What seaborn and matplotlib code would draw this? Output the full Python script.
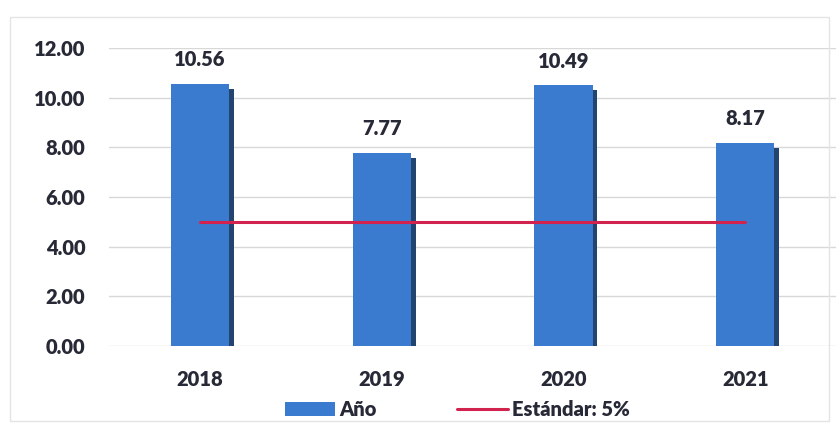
import matplotlib
matplotlib.use("Agg")
import matplotlib.pyplot as plt
import matplotlib.patheffects as pe
from matplotlib.patches import Patch, Rectangle
from matplotlib.lines import Line2D
import seaborn as sns

# data
years = ['2018', '2019', '2020', '2021']
values = [10.56, 7.77, 10.49, 8.17]
standard = [5, 5, 5, 5]

bar_color = '#3b7bcf'
shadow_color = '#22446e'
line_color = '#d2234f'
text_color = '#272936'

sns.set_theme(style='white')
plt.rcParams['font.family'] = ['Lato', 'DejaVu Sans']
plt.rcParams['font.weight'] = 'heavy'

fig = plt.figure(figsize=(8.39, 4.24), dpi=100)
ax = fig.add_axes([0.130, 0.184, 0.8665, 0.703])

sns.barplot(x=years, y=values, color=bar_color, width=0.32, saturation=1,
            linewidth=0, ax=ax, zorder=2)
for bar in ax.patches:
    bar.set_path_effects([pe.SimplePatchShadow(offset=(3.5, -3.5), shadow_rgbFace=shadow_color, alpha=1),
                          pe.Normal()])

sns.lineplot(x=list(range(len(years))), y=standard, color=line_color, linewidth=2.2,
             ax=ax, zorder=3)

# value labels
for i, v in enumerate(values):
    ax.text(i, v + 0.6, f'{v:.2f}', ha='center', va='bottom', fontsize=14.5,
            fontweight='heavy', color=text_color)

ax.set_xlim(-0.5, 3.5)
ax.set_ylim(0, 12)
ax.set_yticks([0, 2, 4, 6, 8, 10, 12])
ax.set_yticklabels([f'{t:.2f}' for t in [0, 2, 4, 6, 8, 10, 12]])
ax.yaxis.grid(True, color='#d8d8d8', linewidth=1)
ax.set_axisbelow(True)
for s in ax.spines.values():
    s.set_visible(False)
ax.tick_params(axis='both', length=0, labelsize=14.5, colors=text_color)
ax.tick_params(axis='y', pad=17)
ax.tick_params(axis='x', pad=17)
for lab in ax.get_xticklabels() + ax.get_yticklabels():
    lab.set_fontweight('heavy')
ax.set_xlabel('')
ax.set_ylabel('')

handles = [Patch(facecolor=bar_color, edgecolor='none', label='Año'),
           Line2D([0], [0], color=line_color, linewidth=2.2, label='Estándar: 5%')]
fig.legend(handles=handles, loc='center', bbox_to_anchor=(0.545, 0.035), ncol=2,
           frameon=False, fontsize=14.5, handlelength=2.5, handletextpad=0.2,
           columnspacing=4.0, labelcolor=text_color)

# faint outer frame of the chart area
fig.patches.append(Rectangle((10 / 839, 3 / 424), 819 / 839, 404 / 424,
                             transform=fig.transFigure, fill=False,
                             edgecolor='#e4e4e4', linewidth=1))

fig.savefig('out.png', dpi=100)
